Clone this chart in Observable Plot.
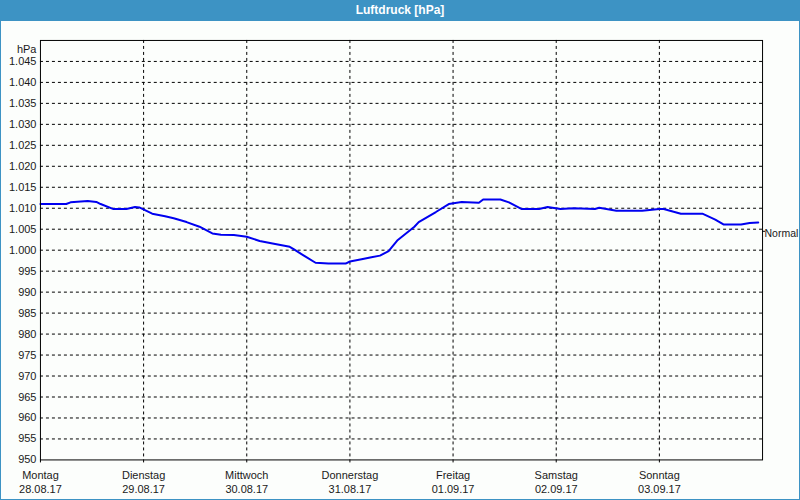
<!DOCTYPE html>
<html>
<head>
<meta charset="utf-8">
<script src="https://cdn.jsdelivr.net/npm/d3@7"></script>
<script src="https://cdn.jsdelivr.net/npm/@observablehq/plot@0.6"></script>
<style>
  html, body { margin: 0; padding: 0; background: #fcfefc; }
  #wrap { position: relative; width: 800px; height: 500px; box-sizing: border-box;
          border-left: 1px solid #3d93c4; border-right: 1px solid #3d93c4; border-bottom: 1px solid #3d93c4;
          background: #fcfefc; }
  #title { position: absolute; top: 0; left: -1px; width: 800px; height: 21px; background: #3d93c4;
           color: #fff; font: bold 12px "Liberation Sans", "DejaVu Sans", sans-serif;
           text-align: center; line-height: 21px; z-index: 2; }
  #chart { position: absolute; top: 0; left: -1px; }
</style>
</head>
<body>
<div id="wrap">
  <div id="title">Luftdruck [hPa]</div>
  <div id="chart"></div>
</div>
<script>
// Day labels (x axis)
const dayNames = ["Montag", "Dienstag", "Mittwoch", "Donnerstag", "Freitag", "Samstag", "Sonntag"];
const dayDates = ["28.08.17", "29.08.17", "30.08.17", "31.08.17", "01.09.17", "02.09.17", "03.09.17"];

// Pressure series: hours since Mon 28.08.17 00:00, and hPa values
const hours = [0, 6, 7, 11, 13, 14, 17, 20, 22, 23, 26, 29, 31, 34, 37, 40, 42, 45, 48, 51, 54, 58, 59, 61, 64, 67, 71, 72, 75, 77, 79, 81, 83, 87, 88, 92, 95, 98, 102, 103, 107, 109, 112, 116, 118, 121, 124, 129, 130, 134, 140, 144, 145, 149, 154, 157, 159, 163, 165, 167];
const pressure = [1011.0, 1011.0, 1011.4, 1011.7, 1011.5, 1011.0, 1009.8, 1009.8, 1010.3, 1010.2, 1008.7, 1008.1, 1007.6, 1006.7, 1005.6, 1004.0, 1003.7, 1003.6, 1003.2, 1002.2, 1001.6, 1000.8, 1000.2, 998.9, 997.0, 996.8, 996.8, 997.3, 997.9, 998.3, 998.7, 999.8, 1002.3, 1005.6, 1006.7, 1009.1, 1011.0, 1011.5, 1011.3, 1012.1, 1012.1, 1011.4, 1009.8, 1009.8, 1010.3, 1009.8, 1010.0, 1009.8, 1010.1, 1009.4, 1009.4, 1009.8, 1009.8, 1008.7, 1008.7, 1007.3, 1006.1, 1006.1, 1006.5, 1006.6];

// Normal pressure reference
const normalValue = [1004.5];
const normalLabel = "Normal";

// Y ticks
const yTicks = d3.range(950, 1050, 5);
const yGrid = d3.range(955, 1050, 5);

const start = Date.UTC(2017, 7, 28);
const H = 3600 * 1000;
const dayTicks = dayNames.map((_, i) => new Date(start + i * 24 * H));
const data = hours.map((h, i) => ({ t: new Date(start + h * H), p: pressure[i] }));
const endDate = new Date(start + 7 * 24 * H);

const de = d3.formatLocale({ decimal: ",", thousands: ".", grouping: [3], currency: ["", " €"] });
const fmt = de.format(",d");

const chart = Plot.plot({
  width: 800,
  height: 500,
  marginLeft: 40,
  marginRight: 37,
  marginTop: 40,
  marginBottom: 40,
  style: { fontFamily: "'Liberation Sans', 'DejaVu Sans', sans-serif", fontSize: "11px", color: "#1a1a1a", background: "transparent", overflow: "visible" },
  x: { type: "utc", domain: [new Date(start), endDate] },
  y: { domain: [950, 1050] },
  marks: [
    Plot.gridY(yGrid, { stroke: "#000", strokeOpacity: 1, strokeDasharray: "3,3" }),
    Plot.gridX(dayTicks.slice(1), { stroke: "#000", strokeOpacity: 1, strokeDasharray: "3,3" }),
    Plot.axisY(yTicks, { tickFormat: fmt, tickSize: 0, tickPadding: 4, label: null }),
    Plot.axisX(dayTicks, { tickFormat: (d, i) => dayNames[i] + "\n" + dayDates[i], tickSize: 3, tickPadding: 5, lineHeight: 1.36, label: null, stroke: "#000" }),
    Plot.text(["hPa"], { frameAnchor: "top-left", textAnchor: "end", dx: -4, dy: 5, fill: "#1a1a1a" }),
    Plot.ruleY(normalValue, { y: d => d, x1: () => endDate, x2: () => new Date(endDate.getTime() + 0.7 * H), stroke: "#000" }),
    Plot.text(normalValue, { y: d => d, frameAnchor: "right", textAnchor: "start", dx: 2, dy: 2, text: () => normalLabel, fill: "#1a1a1a", fontSize: 10.5 }),
    Plot.line(data, { x: "t", y: "p", stroke: "#0000f0", strokeWidth: 2 }),
    Plot.frame({ stroke: "#000", strokeWidth: 1 })
  ]
});
document.getElementById("chart").appendChild(chart);
</script>
</body>
</html>
